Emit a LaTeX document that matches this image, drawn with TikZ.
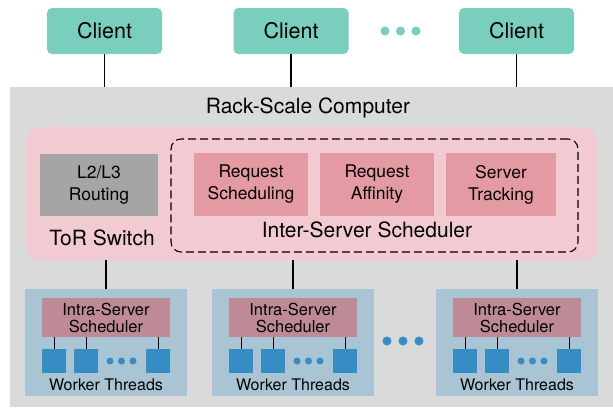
\documentclass[tikz,border=0pt]{standalone}
\usepackage{fontspec}
\setmainfont{TeX Gyre Heros}
\usetikzlibrary{positioning}

\definecolor{rackgray}{HTML}{DADADA}
\definecolor{clientgreen}{HTML}{79CEBE}
\definecolor{torpink}{HTML}{F1CBD1}
\definecolor{routegray}{HTML}{A5A5A5}
\definecolor{schedpink}{HTML}{E39AA2}
\definecolor{serverblue}{HTML}{A9C4D3}
\definecolor{intrapink}{HTML}{BD8A95}
\definecolor{workerblue}{HTML}{358DC4}

\begin{document}
\begin{tikzpicture}[x=1pt,y=-1pt,
        client/.style={fill=clientgreen,rounded corners=5pt,minimum width=115pt,minimum height=46pt,font=\fontsize{21.5}{24}\selectfont},
        unit/.style={minimum width=114pt,minimum height=63pt,align=center,font=\fontsize{17.5}{22}\selectfont},
        server/.style={fill=serverblue,minimum width=162pt,minimum height=107pt},
        intra/.style={fill=intrapink,minimum width=128pt,minimum height=39pt,align=center,font=\fontsize{16.5}{17}\selectfont},
        worker/.style={fill=workerblue,minimum size=24pt,inner sep=0pt},
        label/.style={font=\fontsize{21}{24}\selectfont},
        wire/.style={line width=1.7pt}]
        \useasboundingbox (0,0) rectangle (613,407);

        % Rack
        \node[fill=rackgray,minimum width=603pt,minimum height=320pt,inner sep=0pt] (rackbox) at (311.5,247) {};
        \node[label] (rack) at (308,108) {Rack-Scale Computer};

        % Clients
        \node[client] (c1) at (104.5,31) {Client};
        \node[client] (c2) at (291,31) {Client};
        \node[client] (c3) at (516.5,31) {Client};
        \foreach \w in {0,1,2}
            \fill[clientgreen] (385 + \w * 15.5, 31) circle (4.5pt);

        % ToR Switch
        \node[fill=torpink,rounded corners=14pt,minimum width=572pt,minimum height=133pt] (tor) at (312,193.5) {};
        \node[unit,fill=routegray,minimum width=118pt,minimum height=62pt] (route) at (99,185) {L2/L3\\Routing};
        \node[label] (torname) at (102,238) {ToR Switch};

        % Inter-Server Scheduler
        \node[draw,dashed,dash pattern=on 8pt off 4pt,line width=1.1pt,rounded corners=10pt,minimum width=407pt,minimum height=113pt] (inter) at (374.5,195.5) {};
        \node[unit,fill=schedpink] (reqsched) at (251,184.5) {Request\\Scheduling};
        \node[unit,fill=schedpink] (reqaff) at (377,184.5) {Request\\Affinity};
        \node[unit,fill=schedpink,minimum width=110pt] (track) at (501,184.5) {Server\\Tracking};
        \node[label] (intername) at (367,230) {Inter-Server Scheduler};

        % Server
        \foreach \n/\x in {1/106, 2/293, 3/517} {
            \node[server] (s\n) at (\x,342.5) {};
            \node[intra] (is\n) at (\x,317.5) {Intra-Server\\Scheduler};
            \node[worker] (wa\n) at (\x - 52,361) {};
            \node[worker] (wb\n) at (\x - 20,361) {};
            \node[worker] (wc\n) at (\x + 52,361) {};
            \foreach \w in {0,1,2}
                \fill[workerblue] (\x + 4 + \w * 11.5, 361) circle (3.5pt);
            \node[font=\fontsize{16}{17}\selectfont] (wt\n) at (\x,385) {Worker Threads};
            \foreach \k in {a,b,c}
                \draw[line width=0.9pt] (is\n.south -| w\k\n) -- (w\k\n);
        }
        \foreach \w in {0,1,2}
            \fill[workerblue] (387 + \w * 16, 341) circle (4.5pt);

        % Linien
        \draw[wire] (c1) -- (c1 |- rackbox.north);
        \draw[wire] (c2) -- (c2 |- rackbox.north);
        \draw[wire] (c3) -- (c3 |- rackbox.north);
        \draw[wire] (tor.south -| s1) -- (s1);
        \draw[wire] (tor.south -| s2) -- (s2);
        \draw[wire] (tor.south -| s3) -- (s3);
    \end{tikzpicture}
\end{document}
